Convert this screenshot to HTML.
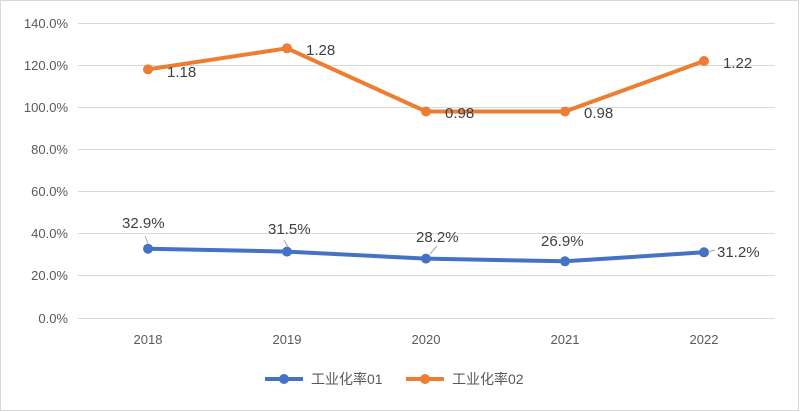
<!DOCTYPE html>
<html><head><meta charset="utf-8"><style>
body{margin:0;background:#fff}
svg{display:block}
text{font-family:"Liberation Sans","Noto Sans CJK SC",sans-serif;fill:#595959}
</style></head><body>
<svg width="800" height="412" xmlns="http://www.w3.org/2000/svg">
<rect x="0.5" y="0.5" width="798" height="410" fill="#fff" stroke="#d9d9d9"/>
<g stroke="#d9d9d9" stroke-width="1">
<line x1="78" x2="775" y1="23.5" y2="23.5"/>
<line x1="78" x2="775" y1="65.5" y2="65.5"/>
<line x1="78" x2="775" y1="107.5" y2="107.5"/>
<line x1="78" x2="775" y1="149.5" y2="149.5"/>
<line x1="78" x2="775" y1="191.5" y2="191.5"/>
<line x1="78" x2="775" y1="233.5" y2="233.5"/>
<line x1="78" x2="775" y1="275.5" y2="275.5"/>
<line x1="78" x2="775" y1="318.5" y2="318.5"/>
</g>
<g font-size="13" text-anchor="end">
<text x="68" y="28">140.0%</text>
<text x="68" y="70">120.0%</text>
<text x="68" y="112">100.0%</text>
<text x="68" y="154">80.0%</text>
<text x="68" y="196">60.0%</text>
<text x="68" y="238">40.0%</text>
<text x="68" y="280">20.0%</text>
<text x="68" y="323">0.0%</text>
</g>
<g font-size="13" text-anchor="middle">
<text x="148" y="344">2018</text>
<text x="287" y="344">2019</text>
<text x="426" y="344">2020</text>
<text x="565" y="344">2021</text>
<text x="704" y="344">2022</text>
</g>
<polyline fill="none" stroke="#4472c4" stroke-width="4" stroke-linejoin="round" points="148,248.7 287,251.6 426,258.6 565,261.3 704,252.3"/>
<g fill="#4472c4">
<circle cx="148" cy="248.7" r="5"/><circle cx="287" cy="251.6" r="5"/><circle cx="426" cy="258.6" r="5"/><circle cx="565" cy="261.3" r="5"/><circle cx="704" cy="252.3" r="5"/>
</g>
<polyline fill="none" stroke="#ed7d31" stroke-width="4" stroke-linejoin="round" points="148,69.4 287,48.3 426,111.5 565,111.5 704,61"/>
<g fill="#ed7d31">
<circle cx="148" cy="69.4" r="5"/><circle cx="287" cy="48.3" r="5"/><circle cx="426" cy="111.5" r="5"/><circle cx="565" cy="111.5" r="5"/><circle cx="704" cy="61" r="5"/>
</g>
<g stroke="#a6a6a6" stroke-width="1">
<line x1="145" y1="236" x2="148" y2="244"/>
<line x1="284" y1="240" x2="288" y2="247"/>
<line x1="437" y1="246" x2="430" y2="254"/>
<line x1="715" y1="250" x2="708" y2="252"/>
</g>
<g font-size="15" fill="#404040">
<text x="122" y="228" style="fill:#404040">32.9%</text>
<text x="268" y="234" style="fill:#404040">31.5%</text>
<text x="416" y="242" style="fill:#404040">28.2%</text>
<text x="541" y="246" style="fill:#404040">26.9%</text>
<text x="717" y="257" style="fill:#404040">31.2%</text>
<text x="167" y="77" style="fill:#404040">1.18</text>
<text x="306" y="55" style="fill:#404040">1.28</text>
<text x="445" y="118" style="fill:#404040">0.98</text>
<text x="584" y="118" style="fill:#404040">0.98</text>
<text x="723" y="68" style="fill:#404040">1.22</text>
</g>
<line x1="265" y1="379" x2="303" y2="379" stroke="#4472c4" stroke-width="4"/>
<circle cx="284" cy="379" r="5" fill="#4472c4"/>
<text x="311" y="384" font-size="14">工业化率01</text>
<line x1="406" y1="379" x2="444" y2="379" stroke="#ed7d31" stroke-width="4"/>
<circle cx="425" cy="379" r="5" fill="#ed7d31"/>
<text x="452" y="384" font-size="14">工业化率02</text>
</svg>
</body></html>
